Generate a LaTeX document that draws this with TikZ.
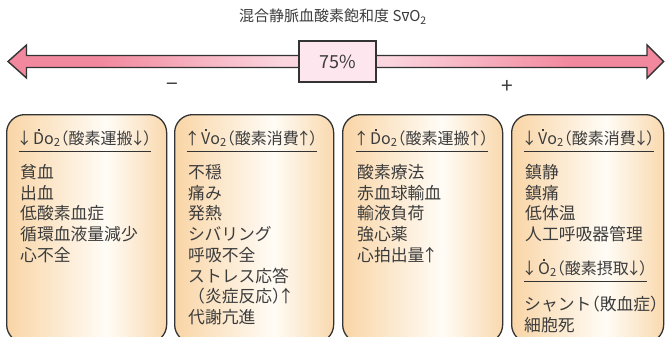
\documentclass[tikz,border=0pt]{standalone}
\usepackage{fontspec}
\setmainfont{Noto Sans CJK JP}[RawFeature=+halt]
\usetikzlibrary{calc}
\definecolor{pinkD}{HTML}{F2889E}
\definecolor{pinkL}{HTML}{FBD6DF}
\definecolor{boxpink}{HTML}{FDE6EE}
\definecolor{peach}{HTML}{F9D5A6}
\definecolor{cream}{HTML}{FFFCF6}
\definecolor{edge}{HTML}{333333}
\definecolor{txt}{HTML}{3C3C3C}
\pgfdeclarehorizontalshading{arrowshade}{100bp}{color(0bp)=(pinkD); color(25bp)=(pinkD); color(32bp)=(pinkD); color(46bp)=(pinkL); color(54bp)=(pinkL); color(68bp)=(pinkD); color(75bp)=(pinkD); color(100bp)=(pinkD)}
\pgfdeclarehorizontalshading{boxshade}{100bp}{color(0bp)=(peach); color(25bp)=(peach); color(56bp)=(cream); color(75bp)=(peach!90); color(100bp)=(peach!90)}
\newcommand{\dn}{\makebox[0.65em]{↓}}
\newcommand{\upa}{\makebox[0.65em]{↑}}
\newcommand{\dotover}[1]{\leavevmode\ooalign{#1\cr\hidewidth\raisebox{0.8em}{\rule{0.11em}{0.11em}}\hidewidth\cr}}
\newcommand{\vbar}{\leavevmode\ooalign{v\cr\hidewidth\rule[0.62em]{0.42em}{0.06em}\hidewidth\cr}}
\newcommand{\two}{\textsubscript{2}}
\tikzset{
  panel/.style={draw=edge, line width=1.3pt, rounded corners=18pt, shade, shading=boxshade, rectangle, anchor=north west, minimum height=228pt, inner sep=0pt},
  head/.style={anchor=base west, inner sep=0pt, text=txt, font=\fontsize{16}{20}\selectfont},
  body/.style={anchor=north west, inner sep=0pt, align=left, text=txt, font=\fontsize{16.8}{20.7}\selectfont},
  rule/.style={draw=edge, line width=1pt},
  signs/.style={text=txt, font=\fontsize{21}{22}\selectfont, inner sep=0pt},
  arrowstyle/.style={draw=edge, line width=1.4pt, line join=miter, shade, shading=arrowshade}
}
\begin{document}
\begin{tikzpicture}[x=1pt, y=-1pt]
\useasboundingbox (0,0) rectangle (666,337);
\clip (0,0) rectangle (666,337);
% title
\node[text=txt, font=\fontsize{15}{18}\selectfont, inner sep=0pt] (title) at (333,17) {混合静脈血酸素飽和度 S\vbar O\two};
% arrow
\draw[arrowstyle] (8,61.5) -- (26.5,45) -- (26.5,55.5) -- (647,55.5) -- (647,45) -- (663.5,61.5) -- (647,78) -- (647,67.5) -- (26.5,67.5) -- (26.5,78) -- cycle;
\node[draw=edge, line width=1.4pt, fill=boxpink, minimum width=77pt, minimum height=41pt, inner sep=0pt, text=txt, font=\fontsize{18}{20}\selectfont] (pct) at (337.5,61.5) {75\%};
\node[signs] (minus) at (172,87) {−};
\node[signs] (plus) at (507,87) {+};
% panels
\node[panel, minimum width=160pt] (b1) at (6,114) {};
\node[panel, minimum width=159pt] (b2) at (174,114) {};
\node[panel, minimum width=160pt] (b3) at (342,114) {};
\node[panel, minimum width=152pt] (b4) at (511,114) {};
% headers
\node[head] (h1) at (19,144) {\dn\ \dotover{D}o\two（酸素運搬\dn）};
\node[head] (h2) at (187,144) {\upa\ \dotover{V}o\two（酸素消費\upa）};
\node[head] (h3) at (356,144) {\upa\ \dotover{D}o\two（酸素運搬\upa）};
\node[head] (h4) at (524,144) {\dn\ \dotover{V}o\two（酸素消費\dn）};
\node[head] (h4b) at (524,274) {\dn\ \dotover{O}\two（酸素摂取\dn）};
\foreach \h in {h1,h2,h3,h4,h4b} {\draw[rule] ($(\h.base west)+(0,7)$) -- ($(\h.base east)+(0,7)$);}
% bodies
\node[body] (t1) at (20,163.6) {\rule{0pt}{0.88em}貧血\\出血\\低酸素血症\\循環血液量減少\\心不全};
\node[body] (t2) at (188,163.6) {\rule{0pt}{0.88em}不穏\\痛み\\発熱\\シバリング\\呼吸不全\\ストレス応答\\\hspace*{0.5em}（炎症反応）\upa\\代謝亢進};
\node[body] (t3) at (357,163.6) {\rule{0pt}{0.88em}酸素療法\\赤血球輸血\\輸液負荷\\強心薬\\心拍出量\upa};
\node[body] (t4) at (525,163.6) {\rule{0pt}{0.88em}鎮静\\鎮痛\\低体温\\人工呼吸器管理};
\node[body] (t4b) at (524,296) {\rule{0pt}{0.88em}シャント（敗血症）\\細胞死};
\end{tikzpicture}
\end{document}
